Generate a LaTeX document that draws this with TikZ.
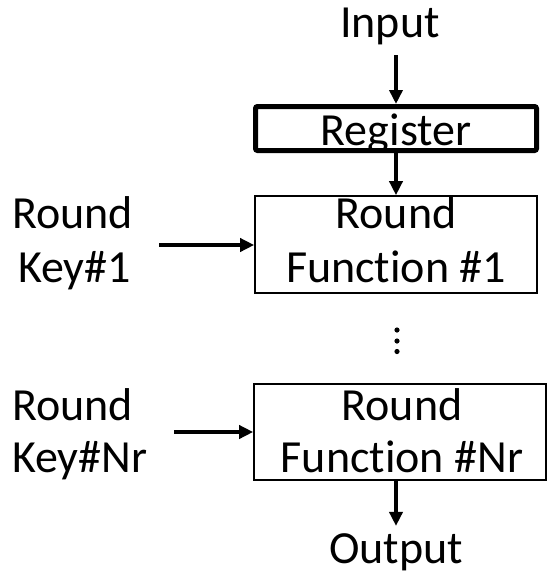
\documentclass[tikz,border=0pt]{standalone}
\usepackage{fontspec}
\setmainfont{Carlito}[Ligatures={NoCommon,NoRequired,NoContextual}]
\usetikzlibrary{arrows.meta}
\begin{document}
\begin{tikzpicture}[x=1pt,y=-1pt,
  fnt/.style={font=\fontsize{46}{55}\selectfont},
  txt/.style={fnt, inner sep=0pt, anchor=base},
  ltxt/.style={fnt, inner sep=0pt, anchor=base west},
  regbox/.style={draw, fnt, line width=5pt, rounded corners=2pt, minimum width=281pt, minimum height=44pt, inner sep=0pt, text height=33pt, text depth=0pt},
  rfbox/.style={draw, line width=1.6pt, inner sep=0pt},
  arr/.style={line width=3.5pt, -{Triangle[length=14pt,width=13pt]}},
  dot/.style={fill=black}]
\useasboundingbox (0,0) rectangle (547,574);
% input and register
\node[txt] (input) at (390,37) {Input};
\node[regbox] (reg) at (396,128.5) {Register};
\draw[arr, shorten <=10.5pt] (input.south -| reg.north) -- (reg.north);
% round function 1
\node[rfbox, minimum width=282pt, minimum height=97pt] (rf1) at (396,244.5) {};
\node[txt] (rf1a) at (396,228) {Round};
\node[txt] (rf1b) at (396,282) {Function \#1};
\draw[arr] (reg.south) -- (reg.south |- rf1.north);
% key 1
\node[ltxt] (k1a) at (12,228) {Round};
\node[ltxt] (k1b) at (18,282) {Key\#1};
\coordinate (k1s) at (159,245);
\draw[arr] (k1s) -- (k1s -| rf1.west);
% dots
\fill[dot] (397,330) circle (2.6pt);
\fill[dot] (397,341) circle (2.6pt);
\fill[dot] (397,351.5) circle (2.6pt);
% round function Nr
\node[rfbox, minimum width=292pt, minimum height=96pt] (rfn) at (400,432) {};
\node[txt] (rfna) at (402,420) {Round};
\node[txt] (rfnb) at (402,472) {Function \#Nr};
% key Nr
\node[ltxt] (kna) at (12,420) {Round};
\node[ltxt] (knb) at (12,472) {Key\#Nr};
\coordinate (kns) at (174,432);
\draw[arr] (kns) -- (kns -| rfn.west);
% output
\node[txt] (output) at (396,563) {Output};
\draw[arr, shorten >=7pt] (rfn.south -| output.north) -- (output.north);
\end{tikzpicture}
\end{document}
